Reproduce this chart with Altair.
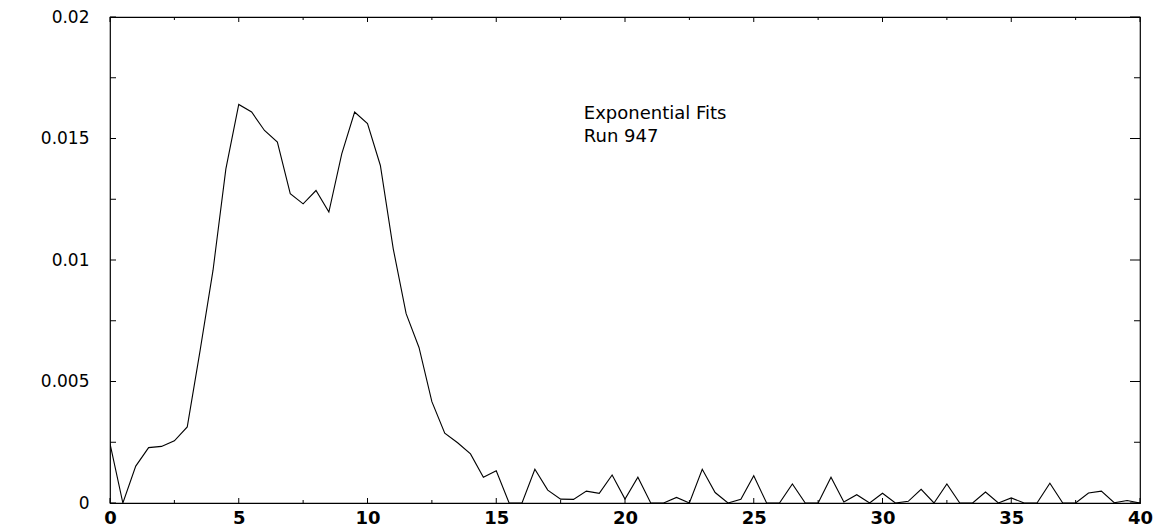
import altair as alt
import pandas as pd

# x positions (bin centres) and the plotted values
x_vals = [0, 0.5, 1, 1.5, 2, 2.5, 3, 3.5, 4, 4.5,
          5, 5.5, 6, 6.5, 7, 7.5, 8, 8.5, 9, 9.5,
          10, 10.5, 11, 11.5, 12, 12.5, 13, 13.5, 14, 14.5,
          15, 15.5, 16, 16.5, 17, 17.5, 18, 18.5, 19, 19.5,
          20, 20.5, 21, 21.5, 22, 22.5, 23, 23.5, 24, 24.5,
          25, 25.5, 26, 26.5, 27, 27.5, 28, 28.5, 29, 29.5,
          30, 30.5, 31, 31.5, 32, 32.5, 33, 33.5, 34, 34.5,
          35, 35.5, 36, 36.5, 37, 37.5, 38, 38.5, 39, 39.5, 40]
y_vals = [0.00244, 0.0, 0.00152, 0.00228, 0.00233, 0.00256, 0.00313, 0.00628, 0.00957, 0.01375,
          0.0164, 0.01609, 0.01533, 0.01485, 0.01273, 0.01231, 0.01286, 0.01197, 0.01437, 0.01609,
          0.01561, 0.01389, 0.01046, 0.00779, 0.0064, 0.00417, 0.00287, 0.00248, 0.00202, 0.00106,
          0.00133, 0.0, 0.0, 0.00139, 0.00053, 0.00016, 0.00015, 0.00049, 0.0004, 0.00115,
          0.00016, 0.00106, 0.0, 0.0, 0.00023, 0.0, 0.00139, 0.00043, 0.0, 0.00015,
          0.00112, 0.0, 0.0, 0.00078, 0.0, 0.0, 0.00106, 0.00004, 0.00034, 0.0,
          0.0004, 0.0, 0.00007, 0.00056, 0.0, 0.00078, 0.0, 0.0, 0.00045, 0.0,
          0.00021, 0.0, 0.0, 0.00081, 0.0, 0.0, 0.00041, 0.00049, 0.00001, 0.0001, 0.0]

x_major_ticks = [0, 5, 10, 15, 20, 25, 30, 35, 40]
x_minor_ticks = [2.5, 7.5, 12.5, 17.5, 22.5, 27.5, 32.5, 37.5]
y_major_ticks = [0, 0.005, 0.01, 0.015, 0.02]
y_minor_ticks = [0.0025, 0.0075, 0.0125, 0.0175]

annot_lines = ["Exponential Fits", "Run 947"]
annot_x = [18.4, 18.4]
annot_y = [0.0158, 0.01485]

W, H = 1030, 486
FONT = "DejaVu Sans"

df = pd.DataFrame({"x": x_vals, "y": y_vals})
xs = alt.Scale(domain=[0, 40], nice=False, zero=False)
ys = alt.Scale(domain=[0, 0.02], nice=False, zero=False)

line = alt.Chart(df).mark_line(color="black", strokeWidth=1.1, clip=True).encode(
    x=alt.X("x:Q", scale=xs, axis=alt.Axis(
        title=None, values=x_major_ticks, ticks=False, domain=False, grid=False,
        labelFont=FONT, labelFontSize=18, labelFontWeight="bold", labelColor="black",
        labelPadding=6, tickSize=0, labelFlush=False)),
    y=alt.Y("y:Q", scale=ys, axis=alt.Axis(
        title=None, values=y_major_ticks, ticks=False, domain=False, grid=False,
        format=".3~f", labelFont=FONT, labelFontSize=17, labelColor="black",
        labelPadding=21, tickSize=0, labelFlush=False)),
)

def xticks(vals, length, top):
    d = pd.DataFrame({"x": vals})
    if top:
        enc = dict(y=alt.value(0), y2=alt.value(length))
    else:
        enc = dict(y=alt.value(H), y2=alt.value(H - length))
    return alt.Chart(d).mark_rule(color="black", strokeWidth=1).encode(
        x=alt.X("x:Q", scale=xs), **enc)

def yticks(vals, length, right):
    d = pd.DataFrame({"y": vals})
    if right:
        enc = dict(x=alt.value(W), x2=alt.value(W - length))
    else:
        enc = dict(x=alt.value(0), x2=alt.value(length))
    return alt.Chart(d).mark_rule(color="black", strokeWidth=1).encode(
        y=alt.Y("y:Q", scale=ys), **enc)

ticks = [
    xticks(x_major_ticks, 5, False), xticks(x_minor_ticks, 3, False),
    xticks(x_major_ticks, 5, True), xticks(x_minor_ticks, 3, True),
    yticks(y_major_ticks, 6, False), yticks(y_minor_ticks, 6, False),
    yticks(y_major_ticks, 10, True), yticks(y_minor_ticks, 6, True),
]

annot_df = pd.DataFrame({"t": annot_lines, "x": annot_x, "y": annot_y})
annot = alt.Chart(annot_df).mark_text(
    align="left", baseline="alphabetic", font=FONT, fontSize=18, color="black"
).encode(x=alt.X("x:Q", scale=xs), y=alt.Y("y:Q", scale=ys), text="t:N")

chart = alt.layer(line, *ticks, annot).properties(
    width=W, height=H,
    autosize=alt.AutoSizeParams(type="none"),
    padding={"left": 110, "top": 17, "right": 24, "bottom": 26},
    background="white",
).configure_view(stroke="black", strokeWidth=1.2)

chart.save("out.html", embed_options={"renderer": "svg", "actions": False})
